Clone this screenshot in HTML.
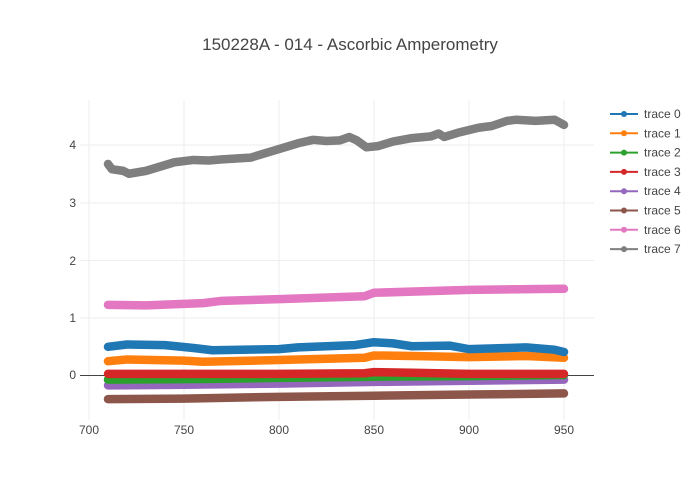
<!DOCTYPE html>
<html><head><meta charset="utf-8"><style>body{margin:0;background:#fff}svg{display:block;font-family:"Liberation Sans",sans-serif}</style></head><body>
<svg width="700" height="500" xmlns="http://www.w3.org/2000/svg">
<rect width="700" height="500" fill="#fff"/>
<text x="350" y="50" text-anchor="middle" font-size="17" fill="#444">150228A - 014 - Ascorbic Amperometry</text>
<g stroke="#eee" stroke-width="1">
<line x1="89" y1="100" x2="89" y2="420"/><line x1="184" y1="100" x2="184" y2="420"/><line x1="279" y1="100" x2="279" y2="420"/><line x1="374" y1="100" x2="374" y2="420"/><line x1="469" y1="100" x2="469" y2="420"/><line x1="564" y1="100" x2="564" y2="420"/>
<line x1="80" y1="318" x2="594" y2="318"/><line x1="80" y1="260.5" x2="594" y2="260.5"/><line x1="80" y1="203" x2="594" y2="203"/><line x1="80" y1="145" x2="594" y2="145"/>
</g>
<line x1="80" y1="375.5" x2="594" y2="375.5" stroke="#444" stroke-width="1"/>
<g font-size="12" fill="#444" text-anchor="end">
<text x="76" y="379">0</text><text x="76" y="322">1</text><text x="76" y="265">2</text><text x="76" y="207">3</text><text x="76" y="149">4</text>
</g>
<g font-size="12" fill="#444" text-anchor="middle">
<text x="89" y="434">700</text><text x="184" y="434">750</text><text x="279" y="434">800</text><text x="374" y="434">850</text><text x="469" y="434">900</text><text x="564" y="434">950</text>
</g>
<g transform="matrix(1.9 0 0 -57.5 -1241 375)" fill="none" stroke-width="8.5" stroke-linejoin="round" stroke-linecap="round">
<polyline vector-effect="non-scaling-stroke" stroke="#8c564b" points="710,-0.42 750,-0.41 800,-0.38 850,-0.36 900,-0.34 950,-0.32"/>
<polyline vector-effect="non-scaling-stroke" stroke="#9467bd" points="710,-0.18 750,-0.17 800,-0.15 850,-0.12 900,-0.10 950,-0.08"/>
<polyline vector-effect="non-scaling-stroke" stroke="#2ca02c" points="710,-0.08 760,-0.07 800,-0.05 850,-0.03 900,-0.02 950,0"/>
<polyline vector-effect="non-scaling-stroke" stroke="#d62728" points="710,0.02 800,0.02 845,0.03 850,0.05 870,0.04 900,0.02 950,0.02"/>
<polyline vector-effect="non-scaling-stroke" stroke="#ff7f0e" points="710,0.24 720,0.27 750,0.25 760,0.23 800,0.26 845,0.30 850,0.34 870,0.33 900,0.31 930,0.33 950,0.30"/>
<polyline vector-effect="non-scaling-stroke" stroke="#1f77b4" points="710,0.49 720,0.53 740,0.52 755,0.47 765,0.43 800,0.45 810,0.48 840,0.52 850,0.57 860,0.55 870,0.50 890,0.51 900,0.45 920,0.47 930,0.48 945,0.44 950,0.40"/>
<polyline vector-effect="non-scaling-stroke" stroke="#e377c2" points="710,1.22 730,1.21 760,1.25 770,1.29 800,1.32 845,1.37 850,1.43 900,1.48 950,1.50"/>
<polyline vector-effect="non-scaling-stroke" stroke="#7f7f7f" points="710,3.67 712,3.58 718,3.55 721,3.50 730,3.55 745,3.70 755,3.74 763,3.73 770,3.75 785,3.78 800,3.93 810,4.03 818,4.09 825,4.07 832,4.08 837,4.14 841,4.08 846,3.96 852,3.98 860,4.06 870,4.12 880,4.15 884,4.20 887,4.14 895,4.22 905,4.30 912,4.33 920,4.42 925,4.44 935,4.42 945,4.44 950,4.35"/>
</g>
<g font-size="12" fill="#444" stroke-width="2">
<g transform="translate(0,114)"><line x1="610" x2="638" stroke="#1f77b4"/><circle cx="624" r="3" fill="#1f77b4"/><text x="644" y="4">trace 0</text></g>
<g transform="translate(0,133.3)"><line x1="610" x2="638" stroke="#ff7f0e"/><circle cx="624" r="3" fill="#ff7f0e"/><text x="644" y="4">trace 1</text></g>
<g transform="translate(0,152.6)"><line x1="610" x2="638" stroke="#2ca02c"/><circle cx="624" r="3" fill="#2ca02c"/><text x="644" y="4">trace 2</text></g>
<g transform="translate(0,171.9)"><line x1="610" x2="638" stroke="#d62728"/><circle cx="624" r="3" fill="#d62728"/><text x="644" y="4">trace 3</text></g>
<g transform="translate(0,191.2)"><line x1="610" x2="638" stroke="#9467bd"/><circle cx="624" r="3" fill="#9467bd"/><text x="644" y="4">trace 4</text></g>
<g transform="translate(0,210.5)"><line x1="610" x2="638" stroke="#8c564b"/><circle cx="624" r="3" fill="#8c564b"/><text x="644" y="4">trace 5</text></g>
<g transform="translate(0,229.8)"><line x1="610" x2="638" stroke="#e377c2"/><circle cx="624" r="3" fill="#e377c2"/><text x="644" y="4">trace 6</text></g>
<g transform="translate(0,249.1)"><line x1="610" x2="638" stroke="#7f7f7f"/><circle cx="624" r="3" fill="#7f7f7f"/><text x="644" y="4">trace 7</text></g>
</g>
</svg>
</body></html>
